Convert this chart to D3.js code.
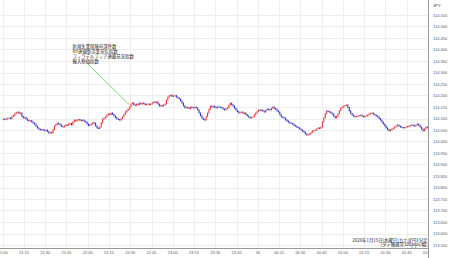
<!DOCTYPE html>
<html>
<head>
<meta charset="utf-8">
<script src="https://cdn.jsdelivr.net/npm/d3@7"></script>
<style>
  body { margin: 0; background: #fff; }
  svg { display: block; }
</style>
</head>
<body>
<div id="chartDiv"></div>
<script>
// CAD/JPY 1 minute bars from 21:00, closes
var barMinutes = 1
var firstOpen = 114.096
var closes = [
  114.098,114.095,114.098,114.101,114.102,114.099,114.107,114.113,114.120,114.126,
  114.128,114.122,114.124,114.110,114.102,114.105,114.098,114.092,114.089,114.091,
  114.085,114.080,114.076,114.066,114.059,114.054,114.050,114.052,114.050,114.047,
  114.050,114.043,114.037,114.040,114.037,114.052,114.067,114.074,114.080,114.076,
  114.072,114.066,114.063,114.068,114.072,114.070,114.076,114.079,114.072,114.085,
  114.093,114.089,114.093,114.096,114.093,114.090,114.093,114.088,114.085,114.076,
  114.069,114.073,114.076,114.082,114.080,114.068,114.059,114.056,114.063,114.081,
  114.098,114.102,114.107,114.115,114.120,114.117,114.124,114.118,114.111,114.104,
  114.098,114.096,114.093,114.099,114.107,114.118,114.128,114.135,114.141,114.150,
  114.163,114.168,114.159,114.157,114.163,114.160,114.167,114.163,114.167,114.164,
  114.159,114.162,114.163,114.160,114.163,114.168,114.172,114.169,114.172,114.163,
  114.154,114.157,114.154,114.159,114.163,114.180,114.193,114.199,114.202,114.196,
  114.198,114.200,114.193,114.190,114.185,114.176,114.167,114.155,114.146,114.149,
  114.146,114.143,114.150,114.147,114.146,114.150,114.146,114.137,114.124,114.112,
  114.102,114.096,114.093,114.108,114.124,114.140,114.154,114.150,114.154,114.149,
  114.146,114.151,114.150,114.148,114.146,114.141,114.137,114.143,114.146,114.158,
  114.167,114.160,114.154,114.145,114.137,114.130,114.124,114.127,114.128,114.122,
  114.124,114.117,114.111,114.106,114.102,114.105,114.107,114.116,114.124,114.131,
  114.137,114.134,114.137,114.132,114.128,114.136,114.141,114.139,114.137,114.145,
  114.150,114.144,114.141,114.133,114.128,114.117,114.107,114.104,114.102,114.094,
  114.089,114.084,114.080,114.079,114.076,114.070,114.067,114.062,114.059,114.054,
  114.050,114.045,114.041,114.033,114.028,114.031,114.033,114.040,114.046,114.048,
  114.050,114.055,114.059,114.057,114.063,114.085,114.102,114.122,114.133,114.130,
  114.128,114.124,114.120,114.110,114.102,114.109,114.120,114.134,114.146,114.150,
  114.154,114.157,114.159,114.147,114.133,114.122,114.115,114.110,114.107,114.109,
  114.111,114.113,114.115,114.110,114.107,114.110,114.111,114.116,114.120,114.122,
  114.124,114.119,114.115,114.111,114.107,114.100,114.093,114.084,114.076,114.068,
  114.059,114.052,114.046,114.050,114.054,114.058,114.063,114.068,114.072,114.067,
  114.063,114.061,114.059,114.062,114.063,114.065,114.067,114.070,114.072,114.069,
  114.067,114.072,114.076,114.070,114.063,114.054,114.046,114.055,114.063,114.060
]
var xTickLabels = ["21:00","21:15","21:30","21:45","22:00","22:15","22:30","22:45",
  "23:00","23:15","23:30","23:45","16","00:15","00:30","00:45",
  "01:00","01:15","01:30","01:45","02:00"]
var yTicks = [113.55,113.60,113.65,113.70,113.75,113.80,113.85,113.90,113.95,114.00,
  114.05,114.10,114.15,114.20,114.25,114.30,114.35,114.40,114.45,114.50,114.55]
var eventLines = ["新規失業保険申請件数","NY連銀製造業景気指数","フィラデルフィア連銀景況指数","輸入物価指数"]
var eventMinute = 90   // 22:30
var eventPrice = 114.160
var footLines = ["2026年1月15日(木曜日)カナダ円1分足","[タテ軸通常100pips/幅]"]
var currency = "JPY"

;(function() {

  var width = 450
  var height = 258
  var plotRight = 428.5
  var plotBottom = 248.5
  var upColor = "#e8383d"
  var downColor = "#3535c8"
  var gridColor = "#eeeeee"
  var labelFont = "'Liberation Sans', Arial, sans-serif"
  var jpFont = "'Noto Sans CJK JP', sans-serif"

  var svg = d3.select("#chartDiv").append("svg")
    .attr("width", width)
    .attr("height", height)

  svg.append("rect").attr("width", width).attr("height", height).attr("fill", "#fff")

  var x = d3.scaleLinear().domain([0, 300]).range([2.7, 428])
  var y = d3.scaleLinear().domain([113.55, 114.55]).range([245, 15])

  var xTicks = xTickLabels.map(function(d, i) { return i * 15 })

  // grid
  svg.append("g").selectAll("line.vg").data(xTicks).enter().append("line")
    .attr("x1", function(d) { return Math.round(x(d)) + 0.5 })
    .attr("x2", function(d) { return Math.round(x(d)) + 0.5 })
    .attr("y1", 0).attr("y2", plotBottom)
    .attr("stroke", gridColor).attr("stroke-width", 1)

  svg.append("g").selectAll("line.hg").data(yTicks).enter().append("line")
    .attr("x1", 0).attr("x2", plotRight)
    .attr("y1", function(d) { return Math.round(y(d)) + 0.5 })
    .attr("y2", function(d) { return Math.round(y(d)) + 0.5 })
    .attr("stroke", gridColor).attr("stroke-width", 1)

  // candles
  var bars = closes.map(function(c, i) {
    var o = i > 0 ? closes[i - 1] : firstOpen
    return { m: i * barMinutes, o: o, c: c }
  })
  var bw = 1.1

  svg.append("g").selectAll("rect").data(bars).enter().append("rect")
    .attr("x", function(d) { return x(d.m + barMinutes / 2) - bw / 2 })
    .attr("y", function(d) { return y(Math.max(d.o, d.c)) - 0.5 })
    .attr("width", bw)
    .attr("height", function(d) { return Math.max(1.2, Math.abs(y(d.o) - y(d.c)) + 1) })
    .attr("fill", function(d) { return d.c >= d.o ? upColor : downColor })

  // event annotation
  svg.append("line")
    .attr("x1", 88).attr("y1", 64)
    .attr("x2", x(eventMinute) - 1).attr("y2", y(eventPrice))
    .attr("stroke", "#33cc33").attr("stroke-width", 0.7)

  svg.append("g").selectAll("text").data(eventLines).enter().append("text")
    .attr("x", 72.5)
    .attr("y", function(d, i) { return 47.5 + i * 5.1 })
    .style("font-family", jpFont)
    .style("font-size", "4.4px")
    .attr("fill", "#222")
    .text(function(d) { return d })

  // axes lines
  svg.append("line").attr("x1", 0).attr("x2", plotRight)
    .attr("y1", plotBottom).attr("y2", plotBottom)
    .attr("stroke", "#999").attr("stroke-width", 1)
  svg.append("line").attr("x1", plotRight).attr("x2", plotRight)
    .attr("y1", 0).attr("y2", height)
    .attr("stroke", "#999").attr("stroke-width", 1)

  // x labels, clipped at the price axis
  svg.append("clipPath").attr("id", "xclip").append("rect")
    .attr("x", 0).attr("y", 0).attr("width", plotRight).attr("height", height)

  svg.append("g").attr("clip-path", "url(#xclip)")
    .selectAll("text").data(xTickLabels).enter().append("text")
    .attr("x", function(d, i) { return x(xTicks[i]) })
    .attr("y", 254)
    .attr("text-anchor", "middle")
    .style("font-family", labelFont)
    .style("font-size", "4px")
    .attr("fill", "#555")
    .text(function(d) { return d })

  // y labels
  svg.append("g").selectAll("text").data(yTicks).enter().append("text")
    .attr("x", 433)
    .attr("y", function(d) { return y(d) + 1.5 })
    .style("font-family", labelFont)
    .style("font-size", "4px")
    .attr("fill", "#555")
    .text(function(d) { return d.toFixed(3) })

  svg.append("text")
    .attr("x", 433).attr("y", 7)
    .style("font-family", labelFont)
    .style("font-size", "4.2px")
    .attr("fill", "#333")
    .text(currency)

  // footnote
  svg.append("g").selectAll("text").data(footLines).enter().append("text")
    .attr("x", 427.5)
    .attr("y", function(d, i) { return 241.5 + i * 4.6 })
    .attr("text-anchor", "end")
    .style("font-family", jpFont)
    .style("font-size", "4.4px")
    .attr("fill", "#222")
    .text(function(d) { return d })

})();
</script>
</body>
</html>
